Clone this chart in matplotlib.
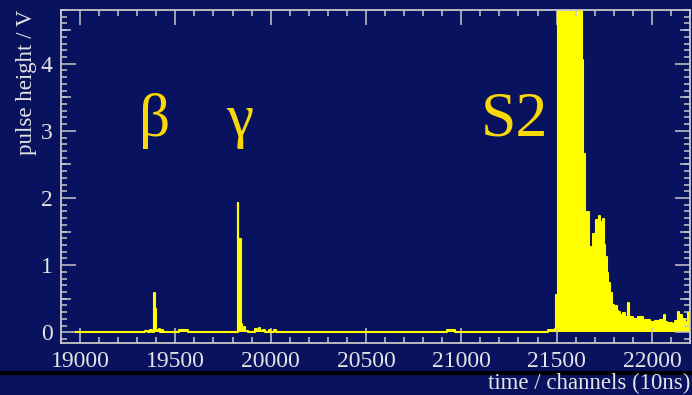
import matplotlib
matplotlib.use('Agg')
import matplotlib.pyplot as plt
from matplotlib.ticker import MultipleLocator
from matplotlib.lines import Line2D

# pulse trace: channel where each level starts, and pulse height (V)
channels = [18980, 19340, 19355, 19365, 19375, 19390, 19395, 19400, 19405, 19412, 19418,
            19430, 19436, 19520, 19565, 19826, 19831, 19846, 19850, 19858, 19864, 19880,
            19920, 19927, 19940, 19946, 19960, 19968, 19990, 19996, 20020, 20030,
            20925, 20968, 21456, 21490, 21497, 21508, 21634, 21641,
            21650, 21659, 21667, 21670, 21680, 21693, 21707, 21720, 21728, 21737, 21742,
            21747, 21755, 21763, 21772, 21781, 21790, 21802, 21812, 21818, 21824, 21833,
            21851, 21860, 21873, 21878, 21886, 21903, 21929, 21956, 21991, 22017, 22043,
            22061, 22068, 22078, 22105, 22122, 22135, 22143, 22157, 22175, 22188, 22196, 22200]
heights = [0.0, 0.02, 0.0, 0.03, 0.0, 0.58, 0.34, 0.04, 0.02, 0.05, 0.0,
           0.03, 0.0, 0.04, 0.0, 1.92, 1.39, 0.12, 0.04, 0.08, 0.02, 0.0,
           0.05, 0.02, 0.06, 0.02, 0.04, 0.01, 0.04, 0.0, 0.03, 0.0,
           0.03, 0.0, 0.03, 0.05, 0.55, 6.0, 4.05, 2.66,
           1.79, 1.52, 1.79, 1.27, 1.22, 1.47, 1.67, 1.73, 1.64, 1.52, 1.69,
           1.30, 1.12, 0.88, 0.73, 0.58, 0.40, 0.36, 0.39, 0.32, 0.30, 0.25,
           0.28, 0.23, 0.44, 0.23, 0.23, 0.20, 0.22, 0.18, 0.15, 0.17, 0.18,
           0.26, 0.15, 0.14, 0.13, 0.17, 0.30, 0.25, 0.20, 0.15, 0.28, 0.13, 0.13]

labels = ['β', 'γ', 'S2']
label_x = [19390, 19835, 21280]
label_y = [3.15, 3.15, 3.15]

bg = '#09125e'
fg = '#e4e4e4'
yellow = '#ffff00'
gold = '#f8d808'
serif = ['Liberation Serif', 'DejaVu Serif']

fig = plt.figure(figsize=(6.92, 3.95), dpi=100, facecolor=bg)
ax = fig.add_axes([61 / 692, 1 - 343 / 395, 629 / 692, 333 / 395])
ax.set_facecolor(bg)

# outline of the histogram as one polygon
xs, ys = [channels[0]], [0.0]
for i in range(len(channels) - 1):
    xs += [channels[i], channels[i + 1]]
    ys += [heights[i], heights[i]]
xs.append(channels[-1])
ys.append(0.0)
ax.fill(xs, ys, facecolor=yellow, edgecolor='none')
ax.plot(xs[1:-1], ys[1:-1], color=yellow, lw=1.5)

for t, x, y in zip(labels, label_x, label_y):
    ax.text(x, y, t, color=gold, fontsize=46 if t == 'S2' else 44, family=serif,
            ha='center', va='center')

ax.set_xlim(18900, 22200)
ax.set_ylim(-0.16, 4.8)
ax.xaxis.set_major_locator(MultipleLocator(500))
ax.xaxis.set_minor_locator(MultipleLocator(100))
ax.yaxis.set_major_locator(MultipleLocator(1))
ax.yaxis.set_minor_locator(MultipleLocator(0.1))

for s in ax.spines.values():
    s.set_color('#c8c8c8')
    s.set_linewidth(1.3)
ax.tick_params(which='both', direction='in', top=True, right=True, colors='#c8c8c8',
               labelcolor=fg, labelsize=17, width=1.1)
ax.tick_params(which='major', length=11, pad=6)
ax.tick_params(which='minor', length=4)
for lab in ax.get_xticklabels() + ax.get_yticklabels():
    lab.set_family(serif)

# medium ticks at half volts, left and right
for side in ['left', 'right']:
    sec = ax.secondary_yaxis(side)
    sec.set_yticks([0.5, 1.5, 2.5, 3.5, 4.5])
    sec.tick_params(direction='in', length=7, width=1.1, colors='#c8c8c8', labelleft=False,
                    labelright=False)
    sec.spines[side].set_visible(False)

fig.text(27 / 692, 1 - 10 / 395, 'pulse height / V', rotation=90, ha='center', va='top',
         color=fg, fontsize=16.5, family=serif)
fig.text(690 / 692, 1 - 383 / 395, 'time / channels (10ns)', ha='right', va='center',
         color=fg, fontsize=16.5, family=serif)

# dark band across the bottom of the slide
fig.add_artist(Line2D([0, 1], [1 - 373 / 395, 1 - 373 / 395], transform=fig.transFigure,
                      color='black', lw=3))

plt.savefig('out.png', dpi=100, facecolor=bg)
plt.close()
